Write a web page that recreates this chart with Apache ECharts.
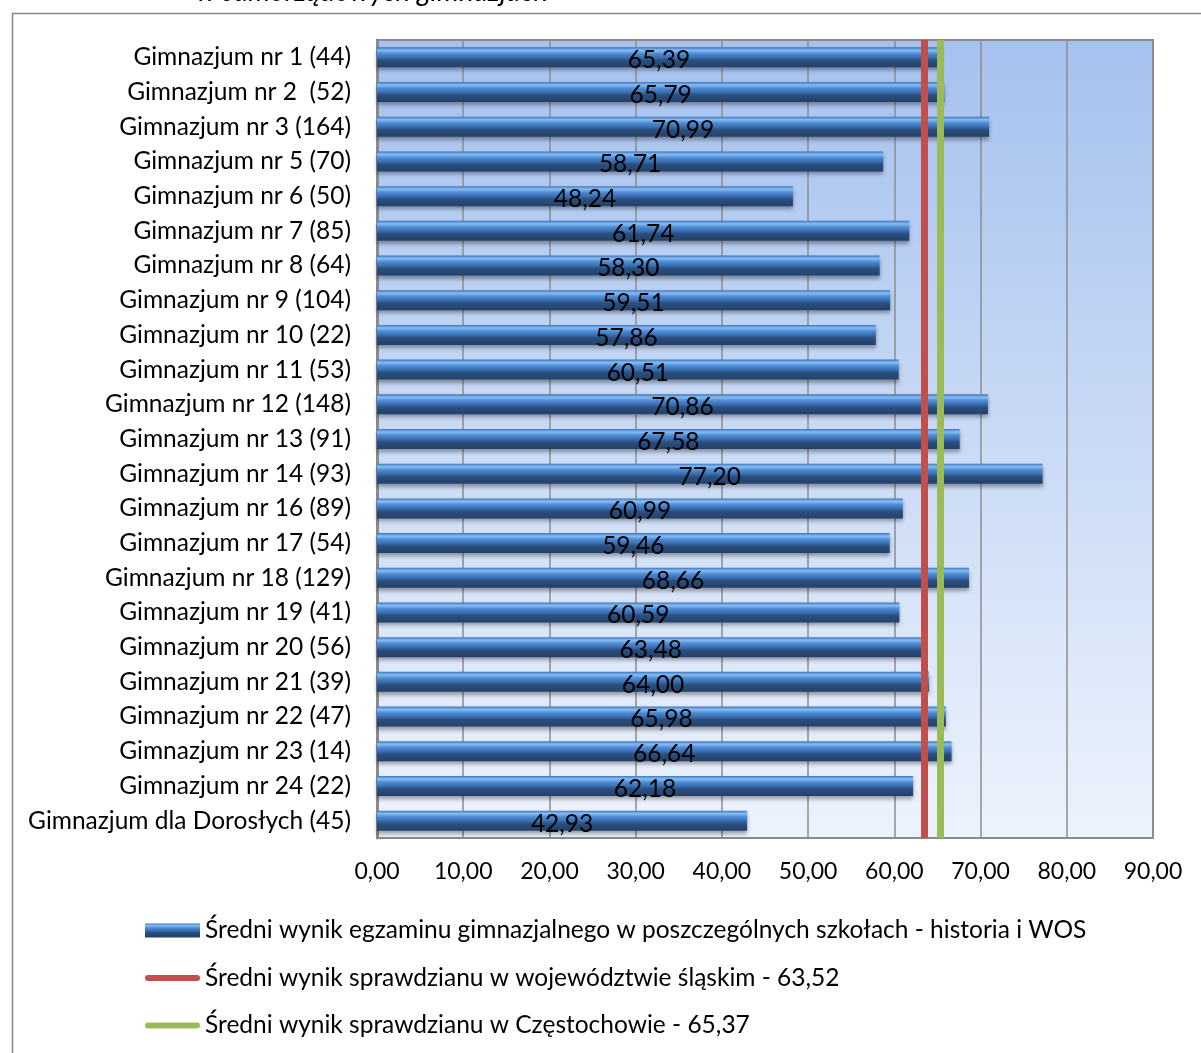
<!DOCTYPE html>
<html>
<head>
<meta charset="utf-8">
<script src="https://cdn.jsdelivr.net/npm/echarts@6/dist/echarts.min.js"></script>
<style>html,body{margin:0;padding:0;background:#fff}#c{width:1201px;height:1053px}</style>
</head>
<body>
<div id="c"></div>
<script>
const categories = [
  'Gimnazjum nr 1 (44)', 'Gimnazjum nr 2  (52)', 'Gimnazjum nr 3 (164)', 'Gimnazjum nr 5 (70)',
  'Gimnazjum nr 6 (50)', 'Gimnazjum nr 7 (85)', 'Gimnazjum nr 8 (64)', 'Gimnazjum nr 9 (104)',
  'Gimnazjum nr 10 (22)', 'Gimnazjum nr 11 (53)', 'Gimnazjum nr 12 (148)', 'Gimnazjum nr 13 (91)',
  'Gimnazjum nr 14 (93)', 'Gimnazjum nr 16 (89)', 'Gimnazjum nr 17 (54)', 'Gimnazjum nr 18 (129)',
  'Gimnazjum nr 19 (41)', 'Gimnazjum nr 20 (56)', 'Gimnazjum nr 21 (39)', 'Gimnazjum nr 22 (47)',
  'Gimnazjum nr 23 (14)', 'Gimnazjum nr 24 (22)', 'Gimnazjum dla Dorosłych (45)'
];
const schoolScores = [65.39, 65.79, 70.99, 58.71, 48.24, 61.74, 58.30, 59.51, 57.86, 60.51, 70.86, 67.58,
  77.20, 60.99, 59.46, 68.66, 60.59, 63.48, 64.00, 65.98, 66.64, 62.18, 42.93];
const regionAvg = 63.52;
const cityAvg = 65.37;
const seriesNames = [
  'Średni wynik egzaminu gimnazjalnego w poszczególnych szkołach - historia i WOS',
  'Średni wynik sprawdzianu w województwie śląskim - 63,52',
  'Średni wynik sprawdzianu w Częstochowie - 65,37'
];
const titleText = 'w samorządowych gimnazjach';

const FONT = 'Lato';
const FS = 24.5;
const fmt = v => v.toFixed(2).replace('.', ',');
const lineIcon = 'path://M3,0 H52 A3,3 0 0 1 52,6 H3 A3,3 0 0 1 3,0 Z';

const chart = echarts.init(document.getElementById('c'));
chart.setOption({
  animation: false,
  textStyle: { fontFamily: FONT },
  graphic: [
    { type: 'rect', left: 10, top: 11, shape: { width: 1200, height: 1050 },
      style: { fill: 'none', stroke: '#878787', lineWidth: 1.5 }, z: 0 },
    { type: 'text', left: 196, top: -22,
      style: { text: titleText, font: 'italic 28px ' + FONT, fill: '#000' }, z: 10 }
  ],
  grid: {
    left: 377, right: 48, top: 40, bottom: 215,
    show: true, borderWidth: 2, borderColor: '#8a8a8a',
    backgroundColor: new echarts.graphic.LinearGradient(0, 0, 0, 1, [
      { offset: 0, color: '#a5c1ee' }, { offset: 1, color: '#edf3fd' }
    ])
  },
  legend: {
    orient: 'vertical', left: 140, top: 913, itemGap: 22.5, itemWidth: 55, itemHeight: 14,
    textStyle: { fontSize: FS, color: '#000', fontFamily: FONT, lineHeight: 21 },
    data: [
      { name: seriesNames[0], icon: 'rect' },
      { name: seriesNames[1], icon: lineIcon },
      { name: seriesNames[2], icon: lineIcon }
    ]
  },
  xAxis: {
    type: 'value', min: 0, max: 90, interval: 10,
    axisLabel: { formatter: v => fmt(v), fontSize: 23, color: '#000', margin: 22 },
    axisLine: { show: false }, axisTick: { show: false },
    splitLine: { lineStyle: { color: '#8c8c8c', width: 1.5 } }
  },
  yAxis: {
    type: 'category', data: categories, inverse: true,
    axisLabel: { fontSize: FS, color: '#000', margin: 26 },
    axisLine: { lineStyle: { color: '#8a8a8a', width: 3 } }, axisTick: { show: false }
  },
  series: [
    {
      name: seriesNames[0], type: 'bar', data: schoolScores, barWidth: 20,
      itemStyle: {
        color: new echarts.graphic.LinearGradient(0, 0, 0, 1, [
          { offset: 0, color: '#3d76bf' }, { offset: 0.15, color: '#86bdf2' },
          { offset: 0.32, color: '#4d8ad3' }, { offset: 0.5, color: '#3b70b4' },
          { offset: 0.65, color: '#2b4f7f' }, { offset: 1, color: '#23406a' }
        ]),
        shadowBlur: 4, shadowColor: 'rgba(0,0,0,0.35)', shadowOffsetY: 3
      },
      label: { show: true, position: 'inside', formatter: p => fmt(p.value), fontSize: FS, color: '#000', offset: [0, 3] }
    },
    {
      name: seriesNames[1], type: 'line', data: [], symbol: 'none', color: '#c0504d',
      lineStyle: { width: 6, color: '#c0504d' },
      markLine: { silent: true, symbol: 'none', label: { show: false },
        lineStyle: { color: '#c0504d', width: 7, type: 'solid' }, data: [{ xAxis: regionAvg }] }
    },
    {
      name: seriesNames[2], type: 'line', data: [], symbol: 'none', color: '#9bbb59',
      lineStyle: { width: 6, color: '#9bbb59' },
      markLine: { silent: true, symbol: 'none', label: { show: false },
        lineStyle: { color: '#9bbb59', width: 7, type: 'solid' }, data: [{ xAxis: cityAvg }] }
    }
  ]
});
</script>
</body>
</html>
